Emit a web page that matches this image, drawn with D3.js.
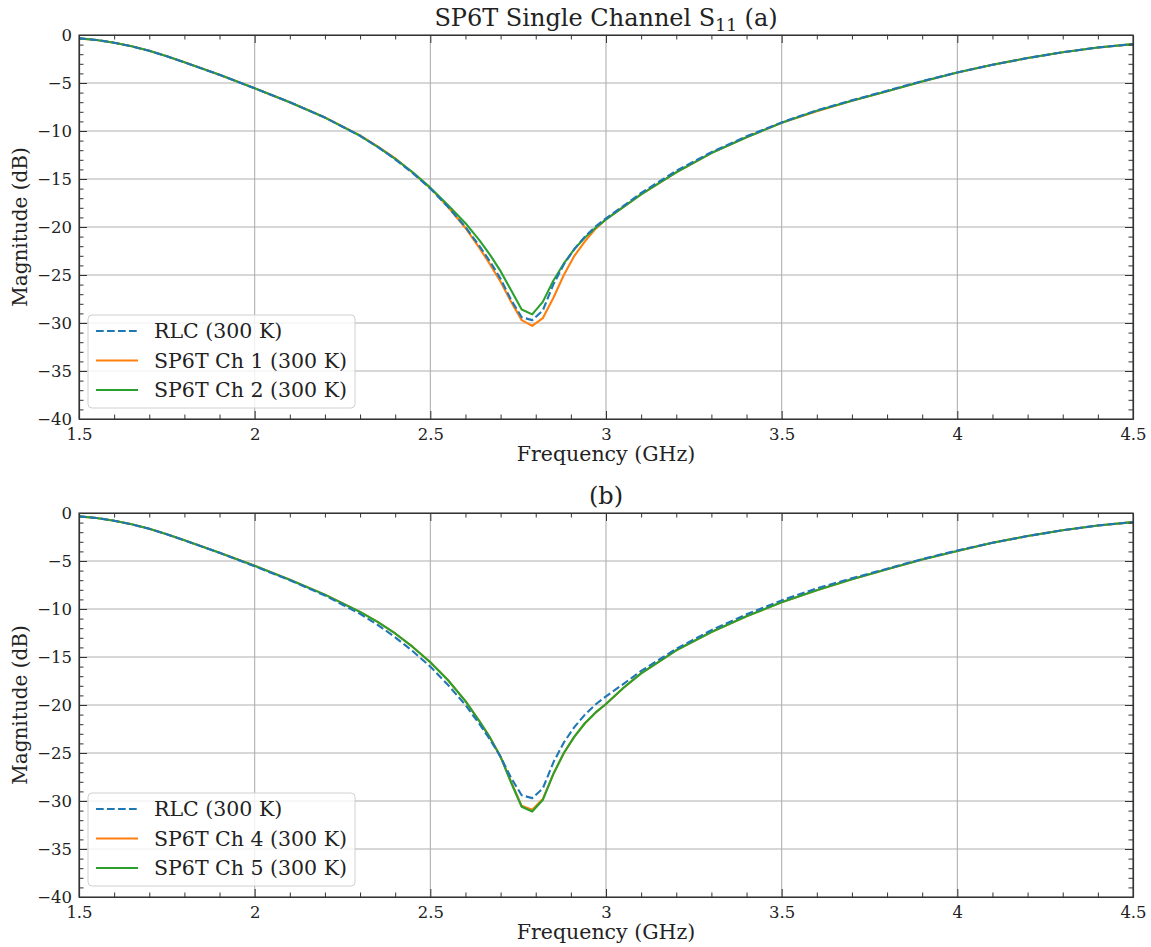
<!DOCTYPE html>
<html>
<head>
<meta charset="utf-8">
<script src="https://cdn.jsdelivr.net/npm/d3@7"></script>
<style>
  body { margin: 0; background: #fff; }
  text { font-family: "DejaVu Serif", serif; fill: #222; }
</style>
</head>
<body>
<div id="chart"></div>
<script>
// frequency grid (GHz) shared by every trace
var freq = [1.5, 1.55, 1.6, 1.65, 1.7, 1.75, 1.8, 1.9, 2.0, 2.1,
            2.2, 2.3, 2.35, 2.4, 2.45, 2.5, 2.55, 2.6, 2.64, 2.67,
            2.7, 2.73, 2.76, 2.79, 2.82, 2.85, 2.88, 2.91, 2.94, 2.97,
            3.0, 3.05, 3.1, 3.2, 3.3, 3.4, 3.5, 3.6, 3.7, 3.8,
            3.9, 4.0, 4.1, 4.2, 4.3, 4.4, 4.5];

// S11 magnitude (dB)
var rlc = [-0.35, -0.52, -0.8, -1.18, -1.65, -2.22, -2.85, -4.15, -5.55, -7.0,
           -8.6, -10.5, -11.65, -12.95, -14.4, -16.0, -17.9, -20.0, -22.0, -23.6,
           -25.4, -27.6, -29.4, -29.7, -28.7, -26.0, -23.9, -22.3, -21.0, -19.95,
           -19.1, -17.8, -16.45, -14.15, -12.2, -10.55, -9.1, -7.85, -6.8, -5.8,
           -4.8, -3.9, -3.1, -2.4, -1.8, -1.3, -0.95];
var ch1 = [-0.35, -0.52, -0.8, -1.18, -1.65, -2.22, -2.85, -4.15, -5.55, -7.0,
           -8.6, -10.45, -11.6, -12.85, -14.35, -15.95, -17.9, -20.1, -22.2, -23.9,
           -25.7, -27.8, -29.7, -30.3, -29.5, -27.4, -25.0, -23.0, -21.5, -20.2,
           -19.2, -17.9, -16.6, -14.3, -12.3, -10.65, -9.15, -7.95, -6.85, -5.85,
           -4.85, -3.9, -3.1, -2.4, -1.8, -1.3, -0.95];
var ch2 = [-0.35, -0.52, -0.8, -1.18, -1.65, -2.22, -2.85, -4.15, -5.55, -7.0,
           -8.6, -10.5, -11.65, -12.9, -14.3, -15.9, -17.7, -19.6, -21.4, -22.9,
           -24.6, -26.6, -28.6, -29.1, -27.8, -25.6, -23.8, -22.3, -21.1, -20.1,
           -19.2, -17.9, -16.6, -14.3, -12.3, -10.65, -9.15, -7.9, -6.85, -5.85,
           -4.85, -3.9, -3.1, -2.4, -1.8, -1.3, -0.95];
var ch4 = [-0.35, -0.52, -0.8, -1.18, -1.65, -2.22, -2.85, -4.15, -5.5, -6.95,
           -8.5, -10.3, -11.35, -12.55, -13.95, -15.55, -17.4, -19.6, -21.7, -23.4,
           -25.4, -28.0, -30.5, -30.9, -29.8, -27.2, -25.0, -23.3, -21.9, -20.8,
           -19.9, -18.2, -16.7, -14.3, -12.4, -10.75, -9.3, -8.05, -6.9, -5.85,
           -4.85, -3.95, -3.1, -2.4, -1.8, -1.3, -0.95];
var ch5 = [-0.35, -0.52, -0.8, -1.18, -1.65, -2.22, -2.85, -4.15, -5.5, -6.95,
           -8.5, -10.3, -11.35, -12.55, -13.95, -15.55, -17.4, -19.6, -21.7, -23.4,
           -25.4, -28.1, -30.6, -31.1, -29.9, -27.2, -25.0, -23.3, -21.9, -20.8,
           -19.9, -18.2, -16.7, -14.3, -12.4, -10.75, -9.3, -8.05, -6.9, -5.85,
           -4.85, -3.95, -3.1, -2.4, -1.8, -1.3, -0.95];

var xTicks = [1.5, 2, 2.5, 3, 3.5, 4, 4.5];
var yTicks = [0, -5, -10, -15, -20, -25, -30, -35, -40];
var colors = ["#1f77b4", "#ff7f0e", "#2ca02c"];

var W = 1151, H = 947;
var left = 79, right = 1133, plotH = 384;

var svg = d3.select("#chart").append("svg")
    .attr("width", W)
    .attr("height", H);

var x = d3.scaleLinear().domain([1.5, 4.5]).range([left, right]);

function fmt(v) { return String(v).replace("-", "\u2212"); }

function drawPanel(top, traces, names, titleFn)
{
  var y = d3.scaleLinear().domain([-40, 0]).range([top + plotH, top]);
  var g = svg.append("g");

  // grid
  g.append("g").selectAll("line").data(xTicks.slice(1, -1)).enter().append("line")
      .attr("x1", function(d) { return x(d); }).attr("x2", function(d) { return x(d); })
      .attr("y1", top).attr("y2", top + plotH)
      .attr("stroke", "#b0b0b0").attr("stroke-width", 1.1);
  g.append("g").selectAll("line").data(yTicks.slice(1, -1)).enter().append("line")
      .attr("x1", left).attr("x2", right)
      .attr("y1", function(d) { return y(d); }).attr("y2", function(d) { return y(d); })
      .attr("stroke", "#b0b0b0").attr("stroke-width", 1.1);

  // traces, solid ones first so the dashed RLC sits on top
  var line = d3.line()
      .x(function(d) { return x(d[0]); })
      .y(function(d) { return y(d[1]); });
  [1, 2, 0].forEach(function(i) {
    g.append("path")
      .datum(freq.map(function(f, k) { return [f, traces[i][k]]; }))
      .attr("fill", "none")
      .attr("stroke", colors[i])
      .attr("stroke-width", 2.1)
      .attr("stroke-linejoin", "round")
      .attr("stroke-dasharray", i == 0 ? "7.7,3.3" : null)
      .attr("d", line);
  });

  // axes, ticks pointing inward on all four sides
  var xMinor = d3.range(16, 45).filter(function(v) { return v % 5 != 0; }).map(function(v) { return v / 10; });
  var yMinor = d3.range(-39, 0).filter(function(v) { return v % 5 != 0; });

  g.append("g").attr("transform", "translate(0," + (top + plotH) + ")")
      .call(d3.axisBottom(x).tickValues(xTicks).tickFormat(fmt).tickSizeInner(-8).tickSizeOuter(0).tickPadding(9));
  g.append("g").attr("transform", "translate(0," + (top + plotH) + ")")
      .call(d3.axisBottom(x).tickValues(xMinor).tickFormat("").tickSizeInner(-4.5).tickSizeOuter(0));
  g.append("g").attr("transform", "translate(0," + top + ")")
      .call(d3.axisTop(x).tickValues(xTicks).tickFormat("").tickSizeInner(-8).tickSizeOuter(0));
  g.append("g").attr("transform", "translate(0," + top + ")")
      .call(d3.axisTop(x).tickValues(xMinor).tickFormat("").tickSizeInner(-4.5).tickSizeOuter(0));
  g.append("g").attr("transform", "translate(" + left + ",0)")
      .call(d3.axisLeft(y).tickValues(yTicks).tickFormat(fmt).tickSizeInner(-8).tickSizeOuter(0).tickPadding(7));
  g.append("g").attr("transform", "translate(" + left + ",0)")
      .call(d3.axisLeft(y).tickValues(yMinor).tickFormat("").tickSizeInner(-4.5).tickSizeOuter(0));
  g.append("g").attr("transform", "translate(" + right + ",0)")
      .call(d3.axisRight(y).tickValues(yTicks).tickFormat("").tickSizeInner(-8).tickSizeOuter(0));
  g.append("g").attr("transform", "translate(" + right + ",0)")
      .call(d3.axisRight(y).tickValues(yMinor).tickFormat("").tickSizeInner(-4.5).tickSizeOuter(0));

  g.selectAll(".domain").attr("stroke", "#333").attr("stroke-width", 1.1);
  g.selectAll(".tick line").attr("stroke", "#333").attr("stroke-width", 1);
  g.selectAll(".tick text")
      .style("font-family", "'DejaVu Serif', serif")
      .style("font-size", "16.5px")
      .attr("fill", "#222");

  // frame
  g.append("rect")
      .attr("x", left).attr("y", top).attr("width", right - left).attr("height", plotH)
      .attr("fill", "none").attr("stroke", "#333").attr("stroke-width", 1.1);

  // labels
  g.append("text")
      .attr("x", (left + right) / 2).attr("y", top + plotH + 42)
      .attr("text-anchor", "middle").style("font-size", "20.5px")
      .text("Frequency (GHz)");
  g.append("text")
      .attr("transform", "translate(27," + (top + plotH / 2) + ") rotate(-90)")
      .attr("text-anchor", "middle").style("font-size", "20px")
      .text("Magnitude (dB)");
  titleFn(g.append("text")
      .attr("x", (left + right) / 2).attr("y", top - 9)
      .attr("text-anchor", "middle").style("font-size", "24px"));

  // legend
  var lg = g.append("g").attr("transform", "translate(88," + (top + plotH - 104) + ")");
  lg.append("rect")
      .attr("width", 267).attr("height", 93).attr("rx", 4)
      .attr("fill", "#fff").attr("fill-opacity", 0.8)
      .attr("stroke", "#d0d0d0").attr("stroke-width", 1);
  names.forEach(function(n, i) {
    var ly = 16 + i * 29.5;
    lg.append("line")
      .attr("x1", 8).attr("x2", 50).attr("y1", ly).attr("y2", ly)
      .attr("stroke", colors[i]).attr("stroke-width", 2.1)
      .attr("stroke-dasharray", i == 0 ? "7.7,3.3" : null);
    lg.append("text")
      .attr("x", 66).attr("y", ly + 7)
      .style("font-size", "20.5px")
      .text(n);
  });
}

drawPanel(35, [rlc, ch1, ch2], ["RLC (300 K)", "SP6T Ch 1 (300 K)", "SP6T Ch 2 (300 K)"], function(t) {
  t.append("tspan").text("SP6T Single Channel S");
  t.append("tspan").attr("dy", 5).style("font-size", "17px").text("11");
  t.append("tspan").attr("dy", -5).text(" (a)");
});
drawPanel(513, [rlc, ch4, ch5], ["RLC (300 K)", "SP6T Ch 4 (300 K)", "SP6T Ch 5 (300 K)"], function(t) {
  t.text("(b)");
});
</script>
</body>
</html>
